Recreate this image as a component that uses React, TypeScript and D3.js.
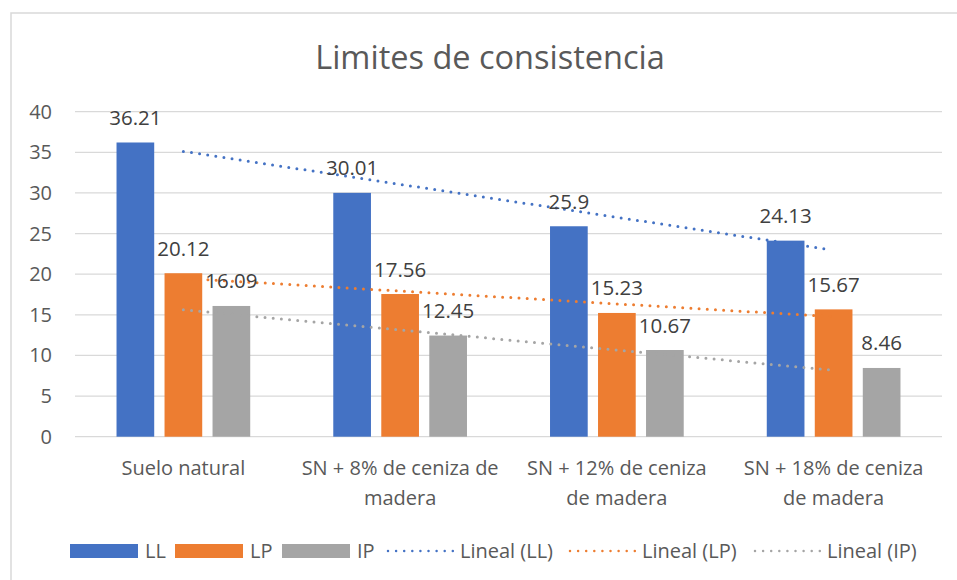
import React from "react";
import * as d3 from "d3";

const categories = [
  "Suelo natural",
  "SN + 8% de ceniza de\nmadera",
  "SN + 12% de ceniza\nde madera",
  "SN + 18% de ceniza\nde madera",
];
const seriesNames = ["LL", "LP", "IP"];
const LL = [36.21, 30.01, 25.9, 24.13];
const LP = [20.12, 17.56, 15.23, 15.67];
const IP = [16.09, 12.45, 10.67, 8.46];
const yTicks = [0, 5, 10, 15, 20, 25, 30, 35, 40];
const title = "Limites de consistencia";
const legendLabels = ["LL", "LP", "IP", "Lineal (LL)", "Lineal (LP)", "Lineal (IP)"];

const colors = ["#4472C4", "#ED7D31", "#A5A5A5"];
const textColor = "#595959";
const gridColor = "#D9D9D9";
const FONT = "'Open Sans', sans-serif";

function linFit(vals: number[]) {
  const n = vals.length;
  const xs = vals.map((_, i) => i + 1);
  const mx = d3.mean(xs) as number;
  const my = d3.mean(vals) as number;
  let sxy = 0,
    sxx = 0;
  xs.forEach((x, i) => {
    sxy += (x - mx) * (vals[i] - my);
    sxx += (x - mx) * (x - mx);
  });
  const b = sxy / sxx;
  const a = my - b * mx;
  return [a + b * 1, a + b * n];
}

export default function App() {
  const W = 957,
    H = 580;
  const plotL = 75,
    plotR = 942,
    plotT = 111.7,
    plotB = 436.7;
  const data = [LL, LP, IP];

  const x0 = d3.scaleBand<string>().domain(categories).range([plotL, plotR]);
  const groupW = 133.7;
  const x1 = d3
    .scaleBand<string>()
    .domain(seriesNames)
    .range([-groupW / 2, groupW / 2])
    .paddingInner(0.215);
  const y = d3.scaleLinear().domain([0, 40]).range([plotB, plotT]);

  const center = (c: string) => (x0(c) as number) + x0.bandwidth() / 2;
  const firstC = center(categories[0]);
  const lastC = center(categories[categories.length - 1]) - 3;

  const dotStyle = {
    strokeWidth: 3,
    strokeDasharray: "0 8.2",
    strokeLinecap: "round" as const,
    fill: "none",
  };

  const legendX = [70, 175, 282, 385, 567, 752];
  const legendY = 551;
  const fs = 20;

  return (
    <svg
      width={W}
      height={H}
      style={{ position: "absolute", left: 0, top: 0, background: "#fff" }}
      fontFamily={FONT}
    >
      <rect x={0} y={0} width={W} height={H} fill="#fff" />
      <rect
        x={11}
        y={13}
        width={W + 20}
        height={H + 20}
        fill="none"
        stroke={gridColor}
        strokeWidth={1.5}
      />
      <text
        x={490}
        y={68.5}
        textAnchor="middle"
        fontSize={32.5}
        fill={textColor}
      >
        {title}
      </text>

      {yTicks.map((t) => (
        <g key={t}>
          <line
            x1={plotL}
            x2={plotR}
            y1={y(t)}
            y2={y(t)}
            stroke={gridColor}
            strokeWidth={1.3}
          />
          <text
            x={52}
            y={y(t) + 7}
            textAnchor="end"
            fontSize={fs}
            fill={textColor}
          >
            {t}
          </text>
        </g>
      ))}

      {categories.map((c, ci) => (
        <g key={c}>
          {seriesNames.map((s, si) => {
            const v = data[si][ci];
            const bx = center(c) + (x1(s) as number);
            return (
              <rect
                key={s}
                x={bx}
                y={y(v)}
                width={x1.bandwidth()}
                height={plotB - y(v)}
                fill={colors[si]}
              />
            );
          })}
        </g>
      ))}

      {data.map((vals, si) => {
        const [a, b] = linFit(vals);
        return (
          <line
            key={si}
            x1={firstC}
            x2={lastC}
            y1={y(a)}
            y2={y(b)}
            stroke={colors[si]}
            {...dotStyle}
          />
        );
      })}

      {categories.map((c, ci) =>
        seriesNames.map((s, si) => {
          const v = data[si][ci];
          const bx = center(c) + (x1(s) as number) + x1.bandwidth() / 2;
          return (
            <text
              key={c + s}
              x={bx}
              y={y(v) - 17.5}
              textAnchor="middle"
              fontSize={fs + 0.5}
              fill="#404040"
            >
              {v}
            </text>
          );
        })
      )}

      {categories.map((c) => {
        const lines = c.split("\n");
        return (
          <text
            key={"lab" + c}
            x={center(c)}
            y={475}
            textAnchor="middle"
            fontSize={fs}
            fill={textColor}
          >
            {lines.map((l, i) => (
              <tspan key={i} x={center(c)} dy={i === 0 ? 0 : 30}>
                {l}
              </tspan>
            ))}
          </text>
        );
      })}

      {legendLabels.map((lab, i) => {
        const lx = legendX[i];
        const si = i % 3;
        return (
          <g key={lab}>
            {i < 3 ? (
              <rect x={lx} y={legendY - 7} width={68} height={14} fill={colors[si]} />
            ) : (
              <line
                x1={lx + 3}
                x2={lx + 68}
                y1={legendY}
                y2={legendY}
                stroke={colors[si]}
                strokeWidth={2.5}
                strokeDasharray="0 8.1"
                strokeLinecap="round"
              />
            )}
            <text
              x={lx + 75}
              y={legendY + 7}
              fontSize={fs}
              fill={textColor}
            >
              {lab}
            </text>
          </g>
        );
      })}
    </svg>
  );
}
